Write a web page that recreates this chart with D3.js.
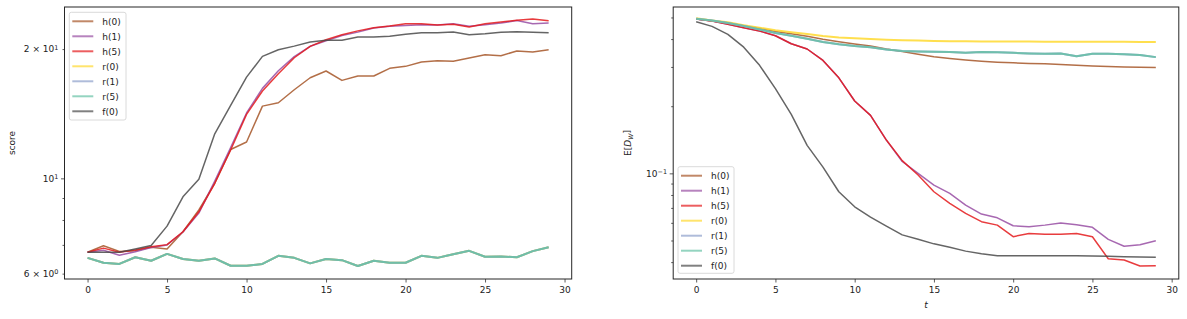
<!DOCTYPE html>
<html><head><meta charset="utf-8">
<script src="https://cdn.jsdelivr.net/npm/d3@7"></script>
<style>
body{margin:0;background:#fff}
svg text{font-family:"DejaVu Sans",sans-serif;fill:#222}
</style>
</head><body>
<svg id="c" width="1187" height="319"></svg>
<script>
// ---- data ----
const steps = d3.range(30);
const seriesNames = ["h(0)","h(1)","h(5)","r(0)","r(1)","r(5)","f(0)"];
const seriesColors = ["#a65628","#984ea3","#e41a1c","#ffd92f","#8da0cb","#66c2a5","#4a4a4a"];

// left panel: score
const scoreH0 = [6.73,6.97,6.76,6.78,6.91,6.85,7.51,8.44,9.74,11.67,12.15,14.73,15.00,16.08,17.15,17.78,16.91,17.31,17.31,18.04,18.23,18.66,18.79,18.73,19.06,19.40,19.30,19.79,19.69,19.93];
const scoreH1 = [6.73,6.80,6.62,6.75,6.90,7.00,7.50,8.30,9.85,11.80,14.20,16.20,17.80,19.20,20.30,20.90,21.50,21.90,22.40,22.60,22.70,22.80,22.75,22.90,22.60,22.80,23.00,23.30,22.90,23.00];
const scoreH5 = [6.73,6.88,6.73,6.81,6.93,7.01,7.51,8.36,9.74,11.64,14.09,15.97,17.52,19.09,20.29,21.02,21.60,22.05,22.42,22.63,22.91,22.91,22.75,22.84,22.51,22.91,23.11,23.33,23.49,23.27];
const scoreR0 = [6.53,6.36,6.32,6.55,6.43,6.67,6.49,6.43,6.51,6.26,6.26,6.32,6.60,6.53,6.34,6.49,6.45,6.25,6.43,6.36,6.36,6.60,6.53,6.66,6.78,6.57,6.58,6.55,6.77,6.91];
const scoreR1 = [6.53,6.36,6.32,6.55,6.43,6.67,6.49,6.43,6.51,6.26,6.26,6.32,6.60,6.53,6.34,6.49,6.45,6.25,6.43,6.36,6.36,6.60,6.53,6.66,6.78,6.57,6.58,6.55,6.77,6.91];
const scoreR5 = [6.53,6.36,6.32,6.55,6.43,6.67,6.49,6.43,6.51,6.26,6.26,6.32,6.60,6.53,6.34,6.49,6.45,6.25,6.43,6.36,6.36,6.60,6.53,6.66,6.78,6.57,6.58,6.55,6.77,6.91];
const scoreF0 = [6.73,6.73,6.73,6.85,6.98,7.74,9.06,9.95,12.70,14.79,17.21,19.23,19.93,20.32,20.77,20.96,20.96,21.33,21.33,21.41,21.64,21.83,21.83,21.91,21.60,21.71,21.88,21.94,21.88,21.83];

// right panel: E[D_W]
const distH0 = [0.492,0.482,0.472,0.459,0.447,0.433,0.423,0.412,0.399,0.389,0.380,0.372,0.361,0.352,0.342,0.333,0.327,0.322,0.318,0.315,0.313,0.311,0.310,0.308,0.305,0.303,0.301,0.300,0.299,0.298];
const distH1 = [0.492,0.482,0.466,0.450,0.435,0.414,0.381,0.361,0.321,0.268,0.211,0.182,0.141,0.113,0.100,0.0886,0.0813,0.0721,0.0657,0.0632,0.0582,0.0576,0.0586,0.0599,0.0588,0.0573,0.0506,0.0471,0.0479,0.0499];
const distH5 = [0.492,0.482,0.466,0.450,0.435,0.414,0.381,0.361,0.321,0.268,0.211,0.182,0.141,0.114,0.0983,0.0827,0.0734,0.0662,0.0607,0.0586,0.0520,0.0538,0.0533,0.0533,0.0538,0.0520,0.0414,0.0409,0.0384,0.0385];
const distR0 = [0.496,0.485,0.476,0.462,0.450,0.438,0.429,0.421,0.413,0.407,0.403,0.400,0.397,0.395,0.394,0.392,0.391,0.391,0.390,0.390,0.390,0.390,0.389,0.389,0.389,0.389,0.389,0.389,0.388,0.388];
const distR1 = [0.493,0.485,0.472,0.458,0.442,0.426,0.414,0.401,0.388,0.379,0.372,0.368,0.359,0.354,0.352,0.351,0.350,0.347,0.350,0.349,0.347,0.345,0.344,0.345,0.335,0.344,0.344,0.342,0.339,0.332];
const distR5 = [0.493,0.485,0.472,0.458,0.442,0.426,0.414,0.401,0.388,0.379,0.372,0.368,0.359,0.354,0.352,0.351,0.350,0.347,0.350,0.349,0.347,0.345,0.344,0.345,0.335,0.344,0.344,0.342,0.339,0.332];
const distF0 = [0.478,0.456,0.420,0.368,0.305,0.240,0.184,0.1335,0.1067,0.0827,0.0708,0.0637,0.0580,0.0530,0.0506,0.0483,0.0466,0.0448,0.0436,0.0427,0.0427,0.0427,0.0427,0.0427,0.0427,0.0426,0.0425,0.0423,0.0422,0.0421];

const xTicks = [0,5,10,15,20,25,30];
const xTickLabels = ["0","5","10","15","20","25","30"];
const leftYTicks = [6,7,8,9,10,20];
const leftYLabels = {6:["6 \u00d7 10","0"],10:["10","1"],20:["2 \u00d7 10","1"]};
const leftYMajor = [10];
const rightYTicks = [0.04,0.05,0.06,0.07,0.08,0.09,0.1,0.2,0.3,0.4,0.5];
const rightYLabels = {0.1:["10","\u22121"]};
const rightYMajor = [0.1];

// ---- drawing ----
const svg = d3.select("#c");
const FS = 9;

function panel(opts){
  const {x0,x1,y0,y1,yDomain,series,yTicks,yLabels,yMajor,legend} = opts;
  const x = d3.scaleLinear().domain([-1.45,30.45]).range([x0,x1]);
  const y = d3.scaleLog().domain(yDomain).range([y1,y0]);
  const g = svg.append("g");

  const id = "clip"+Math.round(x0);
  svg.append("clipPath").attr("id",id).append("rect")
    .attr("x",x0).attr("y",y0).attr("width",x1-x0).attr("height",y1-y0);

  const line = d3.line().x((d,i)=>x(steps[i])).y(d=>y(d));
  const lg = g.append("g").attr("clip-path",`url(#${id})`);
  series.forEach((s,k)=>{
    const isR = seriesNames[k].startsWith("r");
    lg.append("path").attr("d",line(s)).attr("fill","none")
      .attr("stroke",seriesColors[k]).attr("stroke-opacity",0.85)
      .attr("stroke-width",isR?2:1.5).attr("stroke-linejoin","round");
  });

  const xa = g.append("g").attr("transform",`translate(0,${y1})`)
    .call(d3.axisBottom(x).tickValues(xTicks).tickFormat((d,i)=>xTickLabels[i]).tickSize(3.5).tickPadding(4.5));
  const ya = g.append("g").attr("transform",`translate(${x0},0)`)
    .call(d3.axisLeft(y).tickValues(yTicks).tickFormat(()=>"").tickSize(3.5).tickPadding(2.6));
  [xa,ya].forEach(a=>{
    a.select(".domain").remove();
    a.selectAll(".tick line").attr("stroke","#333").attr("stroke-width",0.8);
    a.selectAll("text").attr("font-size",FS).attr("font-family","DejaVu Sans").attr("fill","#222");
  });
  ya.selectAll(".tick").each(function(d){
    const tk = d3.select(this);
    if(!yMajor.includes(d)) tk.select("line").attr("x2",-2);
    const key = Object.keys(yLabels).find(k=>Math.abs(+k-d)<1e-9);
    if(key!==undefined){
      const txt = tk.select("text");
      txt.text(null);
      txt.append("tspan").text(yLabels[key][0]);
      txt.append("tspan").attr("dy","-0.45em").attr("font-size",FS*0.72).text(yLabels[key][1]);
    }
  });

  g.append("rect").attr("x",x0).attr("y",y0).attr("width",x1-x0).attr("height",y1-y0)
    .attr("fill","none").attr("stroke","#262626").attr("stroke-width",1);

  const L = g.append("g");
  L.append("rect").attr("x",legend.x).attr("y",legend.y).attr("width",legend.w).attr("height",legend.h)
    .attr("rx",2).attr("fill","#fff").attr("fill-opacity",0.8).attr("stroke","#d0d0d0").attr("stroke-width",0.8);
  seriesNames.forEach((n,k)=>{
    const cy = legend.y + 9 + k*15;
    L.append("line").attr("x1",legend.x+3).attr("x2",legend.x+24).attr("y1",cy).attr("y2",cy)
      .attr("stroke",seriesColors[k]).attr("stroke-opacity",0.7).attr("stroke-width",2);
    L.append("text").attr("x",legend.x+33).attr("y",cy).attr("dy","0.36em")
      .attr("font-size",FS).text(n);
  });
  return {x,y};
}

panel({x0:64.5,x1:571.7,y0:7,y1:279,yDomain:[5.83,25.06],
  series:[scoreH0,scoreH1,scoreH5,scoreR0,scoreR1,scoreR5,scoreF0],
  yTicks:leftYTicks,yLabels:leftYLabels,yMajor:leftYMajor,
  legend:{x:69.3,y:12.3,w:56.7,h:107.7}});

panel({x0:673.2,x1:1178.8,y0:7,y1:279,yDomain:[0.0336,0.557],
  series:[distH0,distH1,distH5,distR0,distR1,distR5,distF0],
  yTicks:rightYTicks,yLabels:rightYLabels,yMajor:rightYMajor,
  legend:{x:678,y:166.7,w:56,h:106.6}});

svg.append("text").attr("transform","translate(15,143) rotate(-90)").attr("text-anchor","middle")
  .attr("font-size",FS).text("score");
const yl = svg.append("text").attr("transform","translate(631,143) rotate(-90)").attr("text-anchor","middle")
  .attr("font-size",FS);
yl.append("tspan").text("E[");
yl.append("tspan").attr("font-style","italic").text("D");
yl.append("tspan").attr("font-style","italic").attr("font-size",FS*0.7).attr("dy","0.25em").text("W");
yl.append("tspan").attr("dy","-0.25em").text("]");
svg.append("text").attr("x",926).attr("y",308).attr("text-anchor","middle")
  .attr("font-size",FS).attr("font-style","italic").text("t");
</script>
</body></html>
